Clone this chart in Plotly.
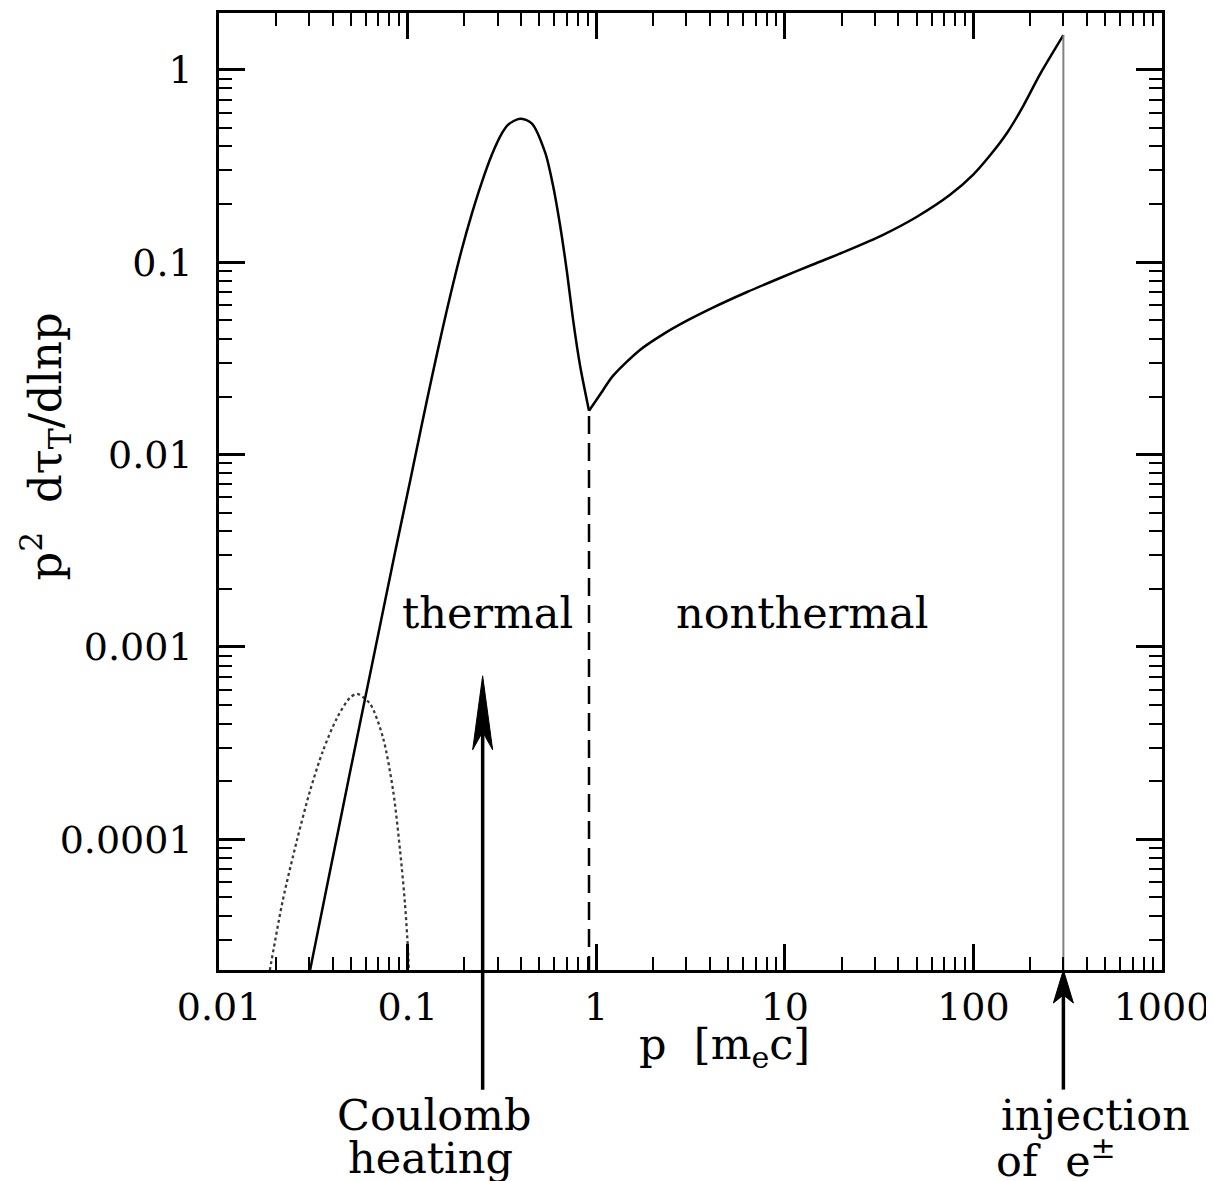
import numpy as np
import plotly.graph_objects as go

# ---------------- data ----------------
# total pair distribution, thermal part (up to the break) then nonthermal tail
p_main = [0.0304, 0.0372, 0.0495, 0.0671, 0.0857, 0.1030, 0.1189, 0.1343, 0.1517, 0.1714,
          0.1936, 0.2188, 0.2472, 0.2793, 0.3155, 0.3404, 0.3945, 0.4550, 0.536, 0.590,
          0.643, 0.700, 0.753, 0.820, 0.916,
          1.047, 1.227, 1.706, 2.259, 3.027, 4.159, 6.31, 9.44, 14.1, 21.4,
          33.2, 50.2, 75.2, 99.5, 122, 151, 183, 225, 300]
y_main = [2.09e-5, 5.58e-5, 2.23e-4, 9.59e-4, 3.09e-3, 7.24e-3, 0.01429, 0.02506, 0.04315, 0.0721,
          0.1161, 0.1778, 0.2594, 0.3606, 0.4656, 0.5176, 0.5572, 0.5272, 0.372, 0.251,
          0.156, 0.0887, 0.0507, 0.0292, 0.0169,
          0.02046, 0.02564, 0.03499, 0.04217, 0.04966, 0.05808, 0.0700, 0.0828, 0.0973, 0.1148,
          0.1387, 0.1722, 0.2239, 0.2844, 0.3573, 0.4710, 0.6442, 0.9441, 1.514]

# initial (dotted) distribution
p_init = [0.0186, 0.0218, 0.0259, 0.0304, 0.0356, 0.0423, 0.0495, 0.0540, 0.0632,
          0.0741, 0.0838, 0.0912, 0.0968, 0.1005, 0.1016]
y_init = [2.09e-5, 4.83e-5, 9.89e-5, 1.79e-4, 2.89e-4, 4.29e-4, 5.45e-4, 5.70e-4,
          5.07e-4, 3.37e-4, 1.79e-4, 8.77e-5, 4.66e-5, 2.66e-5, 2.09e-5]

P_BREAK = 0.916      # thermal / nonthermal boundary
Y_BREAK = 0.0169
P_HEAT = 0.25        # Coulomb heating arrow
Y_HEAT_TIP = 7.08e-4
P_INJ = 300          # injection of e+-
Y_INJ = 1.514

x_tickvals = [0.01, 0.1, 1, 10, 100, 1000]
x_ticktext = ["0.01", "0.1", "1", "10", "100", "1000"]
y_tickvals = [1e-4, 1e-3, 1e-2, 0.1, 1]
y_ticktext = ["0.0001", "0.001", "0.01", "0.1", "1"]

X_RANGE = [0.01, 1000]
Y_RANGE = [2.094e-5, 1.974]

FONT = "DejaVu Serif"
TICK_SIZE = 38
TEXT_SIZE = 43

lx = [np.log10(v) for v in X_RANGE]
ly = [np.log10(v) for v in Y_RANGE]


def ypaper(v):
    return (np.log10(v) - ly[0]) / (ly[1] - ly[0])


def minor_vals(lo, hi):
    vals = []
    for k in range(int(np.floor(np.log10(lo))), int(np.ceil(np.log10(hi))) + 1):
        for d in range(2, 10):
            v = d * 10.0 ** k
            if lo < v < hi:
                vals.append(v)
    return vals


ib = p_main.index(P_BREAK)

fig = go.Figure()

fig.add_trace(go.Scatter(x=p_init, y=y_init, mode="lines",
                         line=dict(color="#3a3a3a", width=2.3, dash="dot", shape="spline", smoothing=0.8),
                         showlegend=False, hoverinfo="skip"))
fig.add_trace(go.Scatter(x=p_main[:ib + 1], y=y_main[:ib + 1], mode="lines",
                         line=dict(color="black", width=2.5, shape="spline", smoothing=0.8),
                         showlegend=False, hoverinfo="skip"))
fig.add_trace(go.Scatter(x=p_main[ib:], y=y_main[ib:], mode="lines",
                         line=dict(color="black", width=2.5, shape="spline", smoothing=0.8),
                         showlegend=False, hoverinfo="skip"))
fig.add_trace(go.Scatter(x=[P_BREAK, P_BREAK], y=[Y_RANGE[0] / 2, Y_BREAK], mode="lines",
                         line=dict(color="black", width=2.5, dash="18px,9px"),
                         showlegend=False, hoverinfo="skip"))
fig.add_trace(go.Scatter(x=[P_INJ, P_INJ], y=[Y_RANGE[0] / 2, Y_INJ], mode="lines",
                         line=dict(color="#808080", width=2),
                         showlegend=False, hoverinfo="skip"))

axis_common = dict(
    type="log", showline=True, mirror="ticks", linecolor="black", linewidth=2.5,
    ticks="inside", ticklen=26, tickwidth=2.5, tickcolor="black",
    showgrid=False, zeroline=False,
    tickfont=dict(family=FONT, size=TICK_SIZE, color="black"),
)

fig.update_xaxes(range=lx, tickmode="array", tickvals=x_tickvals, ticktext=x_ticktext,
                 ticklabelstandoff=2,
                 minor=dict(tickmode="array", tickvals=minor_vals(*X_RANGE), ticks="inside",
                            ticklen=13, tickwidth=2, tickcolor="black", showgrid=False),
                 **axis_common)
fig.update_yaxes(range=ly, tickmode="array", tickvals=y_tickvals, ticktext=y_ticktext,
                 ticklabelstandoff=16,
                 minor=dict(tickmode="array", tickvals=minor_vals(*Y_RANGE), ticks="inside",
                            ticklen=13, tickwidth=2, tickcolor="black", showgrid=False),
                 **axis_common)

shapes = []
# Coulomb heating arrow
tip_heat = ypaper(Y_HEAT_TIP)
shapes.append(dict(type="line", xref="x", yref="paper", x0=P_HEAT, x1=P_HEAT,
                   y0=-0.125, y1=tip_heat - 0.05, line=dict(color="black", width=3.5)))
shapes.append(dict(type="path", xref="x", yref="paper", xsizemode="pixel", ysizemode="pixel",
                   xanchor=P_HEAT, yanchor=tip_heat,
                   path="M 0,0 L -10,-74 L 0,-56 L 10,-74 Z",
                   fillcolor="black", line=dict(color="black", width=1)))
# injection arrow
shapes.append(dict(type="line", xref="x", yref="paper", x0=P_INJ, x1=P_INJ,
                   y0=-0.125, y1=-0.02, line=dict(color="black", width=3.5)))
shapes.append(dict(type="path", xref="x", yref="paper", xsizemode="pixel", ysizemode="pixel",
                   xanchor=P_INJ, yanchor=0,
                   path="M 0,0 L -10,-33 L 0,-25 L 10,-33 Z",
                   fillcolor="black", line=dict(color="black", width=1)))


def label(text, x, y, size=TEXT_SIZE, **kw):
    return dict(text=text, x=x, y=y, xref="paper", yref="paper", showarrow=False,
                xanchor="center", yanchor="middle",
                font=dict(family=FONT, size=size, color="black"), **kw)


annotations = [
    label("thermal", 0.285, 0.373),
    label("nonthermal", 0.618, 0.373),
    label("Coulomb", 0.228, -0.151),
    label("heating", 0.224, -0.196),
    label("injection", 0.929, -0.151),
    label("of  e<sup>±</sup>", 0.888, -0.196),
    label("p  [m<sub>e</sub>c]", 0.536, -0.080),
    label("p<sup>2</sup>  dτ<sub>T</sub>/dlnp", -0.1845, 0.547, size=45, textangle=-90),
]

# the page body has an 8 px margin; the figure is sized so the plot area lands
# where the reference has it
fig.update_layout(
    width=1206, height=1173,
    margin=dict(l=211, r=52, t=2, b=211),
    paper_bgcolor="white", plot_bgcolor="white",
    shapes=shapes, annotations=annotations,
    font=dict(family=FONT, color="black"),
)

fig.write_html("out.html")
